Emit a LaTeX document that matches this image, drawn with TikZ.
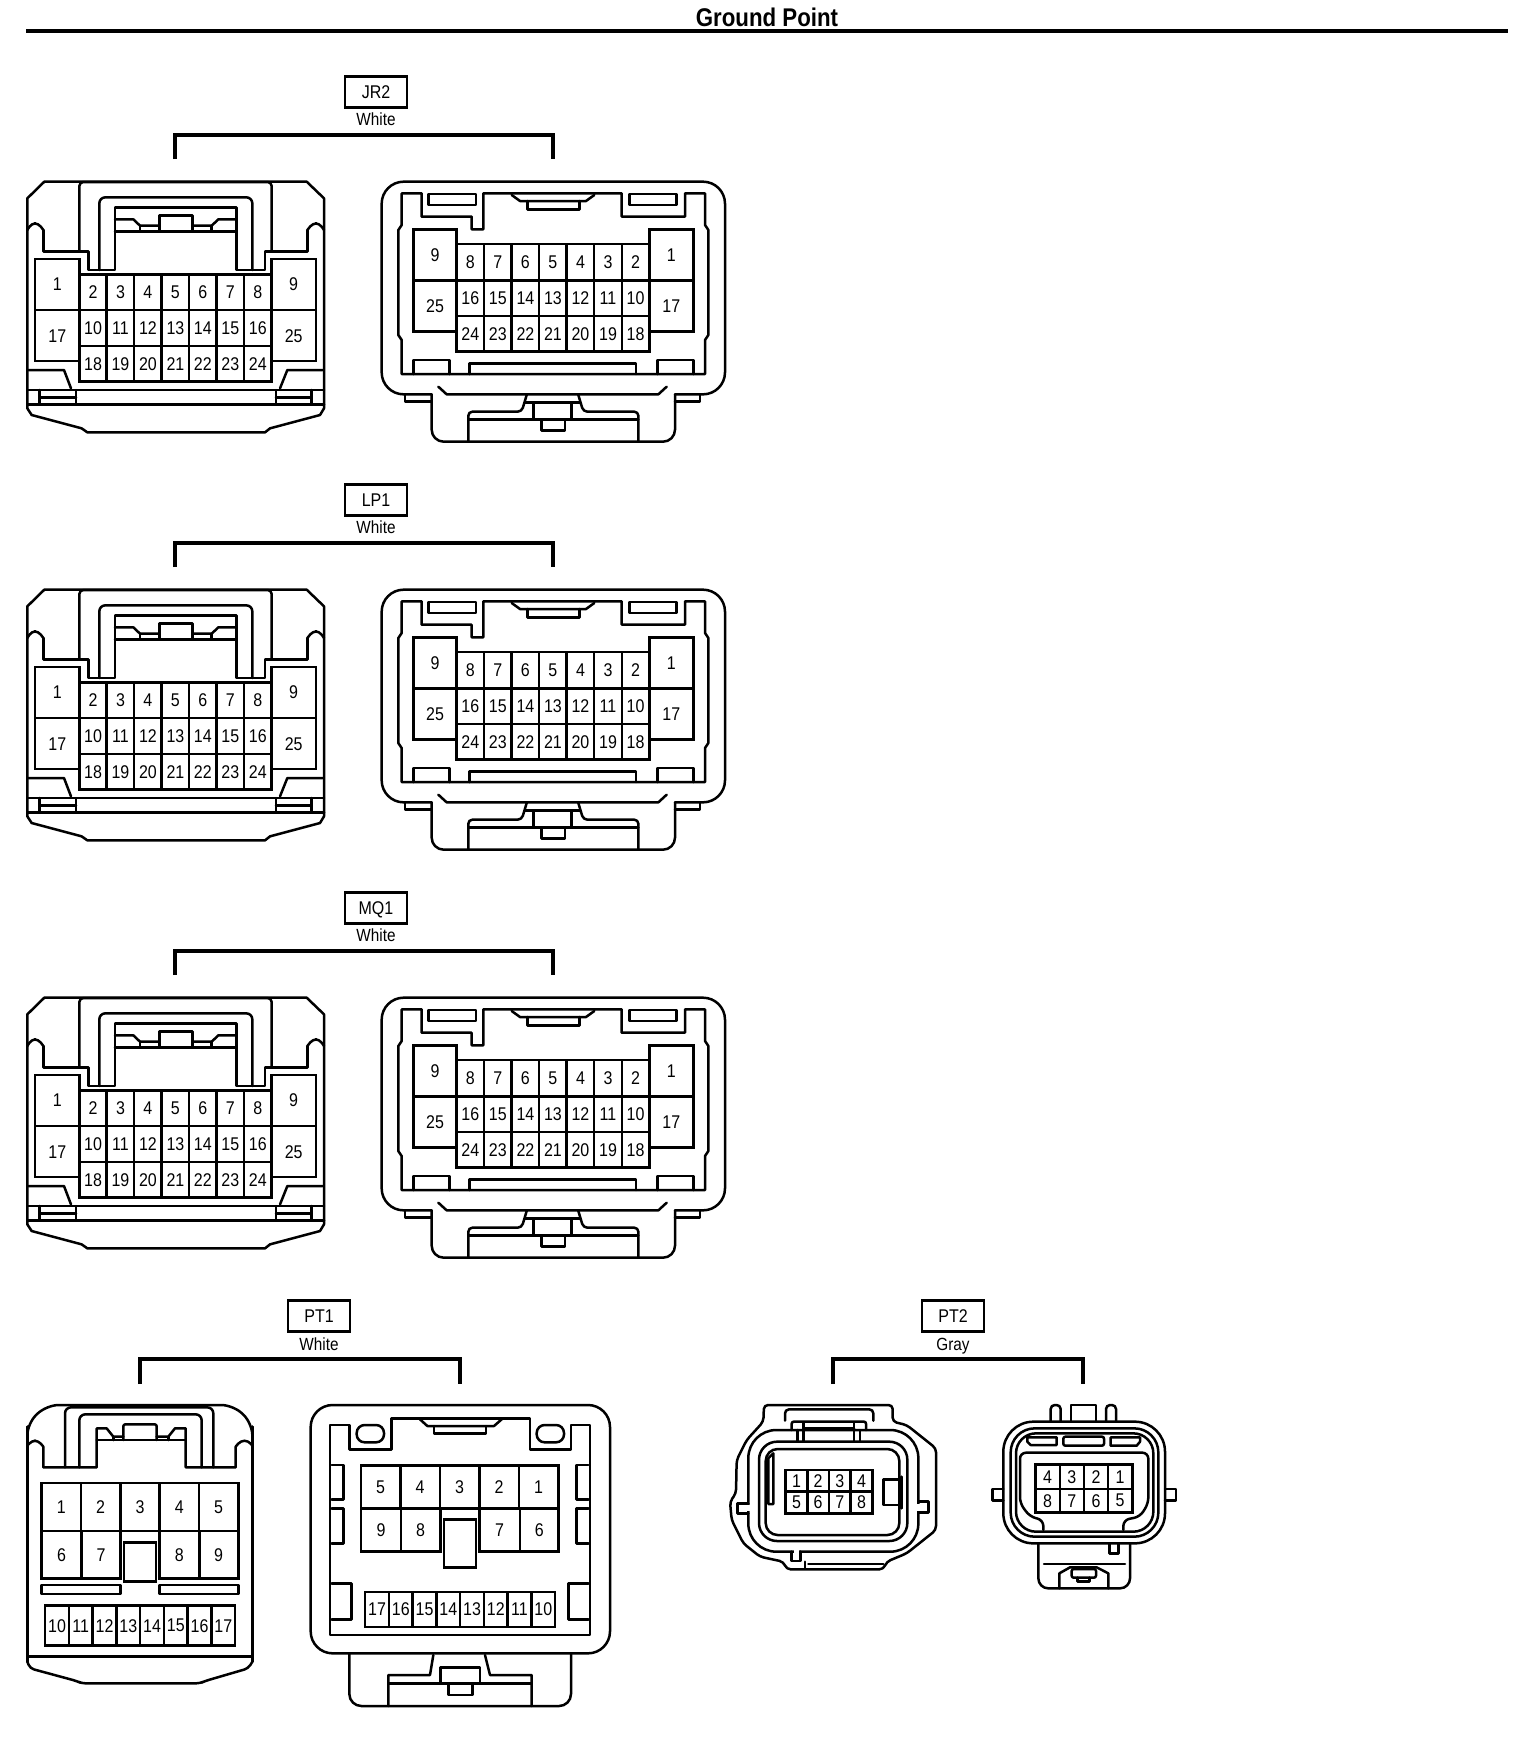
\documentclass[tikz,border=0pt]{standalone}
\usepackage{fontspec}
\newfontfamily\pinfont[FakeStretch=0.87]{Liberation Sans}
\newcommand{\pinsize}{\fontsize{9.2}{10}\selectfont}

\tikzset{
  cu/.style={x=0.16667pt,y=-0.16667pt},
  wire/.style={line width=1.25pt,line join=round,line cap=round},
  bracket/.style={line width=1.7pt},
  gap/.style={white,line width=1.5pt},
  pincell/.style 2 args={draw,line width=1.25pt,inner sep=0pt,outer sep=0pt,
    minimum width=#1*0.16667pt,minimum height=#2*0.16667pt,font=\pinfont\pinsize},
  holecell/.style 2 args={draw,line width=1.25pt,inner sep=0pt,outer sep=0pt,fill=white,
    minimum width=#1*0.16667pt,minimum height=#2*0.16667pt},
  tagbox/.style={draw,line width=1.25pt,inner sep=0pt,outer sep=0pt,text height=6.6pt,text depth=0pt,
    minimum width=31pt,minimum height=15.5pt,font=\pinfont\pinsize},
  tagtext/.style={inner sep=0pt,text height=6.4pt,text depth=0pt,font=\pinfont\fontsize{8.8}{10}\selectfont},
}

\tikzset{
  pics/arched/.style={code={
    \begin{scope}[cu]
    \draw[wire] (133,365) -- (920,365) -- (972,415) -- (972,1045) -- (960,1065) -- (810,1105)
      -- (795,1117) -- (262,1117) -- (245,1105) -- (95,1065) -- (82,1045) -- (82,415) -- cycle;
    % hood
    \draw[wire,rounded corners=2pt] (238,575) -- (238,366) -- (815,366) -- (815,575);
    \draw[wire,rounded corners=2pt] (82,510) -- (95,490) -- (115,490) -- (130,510);
    \draw[wire,rounded corners=2pt] (972,510) -- (958,490) -- (938,490) -- (922,510);
    \draw[wire] (130,510) -- (130,575) -- (265,575) -- (265,630) -- (345,630) -- (345,443) -- (710,443)
      -- (710,630) -- (795,630) -- (795,575) -- (922,575) -- (922,510);
    \draw[wire,rounded corners=3pt] (298,630) -- (298,412) -- (757,412) -- (757,630);
    % latch
    \draw[wire] (345,515) -- (710,515);
    \draw[wire] (345,478) -- (400,478) -- (420,497) -- (478,497);
    \draw[wire] (578,497) -- (635,497) -- (655,478) -- (710,478);
    \draw[wire] (420,497) -- (420,515) (635,497) -- (635,515);
    \draw[wire] (478,515) -- (478,466) -- (578,466) -- (578,515);
    % pins
    \foreach \n [count=\i from 0] in {2,...,8}
      \node[pincell={82.4}{107}] (-pin\n) at ({279+\i*82.4},697) {\n};
    \foreach \n [count=\i from 0] in {10,...,16}
      \node[pincell={82.4}{107}] (-pin\n) at ({279+\i*82.4},804) {\n};
    \foreach \n [count=\i from 0] in {18,...,24}
      \node[pincell={82.4}{107}] (-pin\n) at ({279+\i*82.4},911) {\n};
    \node[pincell={133}{153}] (-pin1) at (172,673) {1};
    \node[pincell={133}{153}] (-pin17) at (172,827) {17};
    \node[pincell={133}{153}] (-pin9) at (881,673) {9};
    \node[pincell={133}{153}] (-pin25) at (881,827) {25};
    % foot
    \draw[wire] (85,930) -- (192,930) -- (213,985);
    \draw[wire] (968,930) -- (862,930) -- (840,985);
    \draw[wire] (82,990) -- (972,990) (82,1033) -- (972,1033);
    \draw[wire] (118,990) -- (118,1033) (228,990) -- (228,1033) (118,1012) -- (228,1012);
    \draw[wire] (828,990) -- (828,1033) (935,990) -- (935,1033) (828,1012) -- (935,1012);
    \end{scope}
  }},
  pics/boxed/.style={code={
    \begin{scope}[cu]
    \draw[wire,rounded corners=11pt] (245,1003) -- (95,1003) -- (95,365) -- (1125,365) -- (1125,1003) -- (975,1003);
    \draw[wire] (165,1003) -- (165,1025) -- (245,1025) (1050,1003) -- (1050,1025) -- (975,1025);
    \draw[wire,rounded corners=6pt] (245,1003) -- (245,1145) -- (975,1145) -- (975,1003);
    % inner wall
    \draw[wire] (155,495) -- (155,400) -- (215,400) -- (215,470) -- (365,470) -- (365,508) -- (400,508) -- (400,400)
      -- (815,400) -- (815,470) -- (1005,470) -- (1005,400) -- (1065,400) -- (1065,495) -- (1075,510)
      -- (1075,825) -- (1065,840) -- (1065,942) -- (155,942) -- (155,840) -- (145,825) -- (145,510) -- cycle;
    \draw[wire] (235,402) rectangle (378,435);
    \draw[wire] (838,402) rectangle (980,435);
    \draw[wire] (485,405) -- (510,423) -- (708,423) -- (733,405);
    \draw[wire] (532,423) -- (532,448) -- (688,448) -- (688,423);
    % pins
    \foreach \n [count=\i from 0] in {8,7,...,2}
      \node[pincell={82.6}{110}] (-pin\n) at ({361+\i*82.6},607) {\n};
    \foreach \n [count=\i from 0] in {16,15,...,10}
      \node[pincell={82.6}{106}] (-pin\n) at ({361+\i*82.6},715) {\n};
    \foreach \n [count=\i from 0] in {24,23,...,18}
      \node[pincell={82.6}{107}] (-pin\n) at ({361+\i*82.6},821) {\n};
    \node[pincell={130}{154}] (-pin9) at (255,585) {9};
    \node[pincell={130}{153}] (-pin25) at (255,738) {25};
    \node[pincell={132}{154}] (-pin1) at (964,585) {1};
    \node[pincell={132}{153}] (-pin17) at (964,738) {17};
    % slots
    \draw[wire] (190,942) -- (190,900) -- (298,900) -- (298,942);
    \draw[wire] (358,942) -- (358,910) -- (858,910) -- (858,942);
    \draw[wire] (922,942) -- (922,900) -- (1030,900) -- (1030,942);
    % clip
    \draw[wire] (265,980) -- (290,1003) -- (925,1003) -- (950,980);
    \draw[wire,rounded corners=2pt] (530,1005) -- (515,1055) -- (355,1055) -- (355,1145);
    \draw[wire,rounded corners=2pt] (685,1005) -- (700,1055) -- (865,1055) -- (865,1145);
    \draw[wire] (355,1078) -- (865,1078);
    \draw[wire] (525,1028) -- (690,1028);
    \draw[wire] (550,1028) -- (550,1078) (665,1028) -- (665,1078);
    \draw[wire] (575,1078) -- (575,1112) -- (645,1112) -- (645,1078);
    \end{scope}
  }},
  pics/archedsmall/.style={code={
    \begin{scope}[cu]
    \draw[wire,rounded corners=6pt] (82,140) -- (82,130) -- (140,75) -- (700,75) -- (757,130) -- (757,140);
    \draw[wire] (82,140) -- (82,845) (757,140) -- (757,845);
    \draw[wire,rounded corners=2pt] (82,845) -- (90,865) -- (230,903) -- (245,910) -- (600,910) -- (615,903) -- (745,865) -- (757,845);
    \draw[wire] (82,830) -- (757,830);
    % hood
    \draw[wire,rounded corners=2pt] (82,197) -- (95,182) -- (115,182) -- (130,200);
    \draw[wire,rounded corners=2pt] (757,197) -- (745,182) -- (722,182) -- (707,200);
    \draw[wire] (130,200) -- (130,262) -- (290,262) -- (290,145) -- (320,145) -- (340,170) -- (370,170);
    \draw[wire] (470,170) -- (505,170) -- (525,145) -- (557,145) -- (557,262) -- (707,262) -- (707,200);
    \draw[wire] (290,180) -- (557,180);
    \draw[wire] (340,170) -- (340,180) (505,170) -- (505,180);
    \draw[wire,rounded corners=1pt] (370,180) -- (370,133) -- (470,133) -- (470,180);
    \draw[wire,rounded corners=3pt] (195,262) -- (195,82) -- (640,82) -- (640,262);
    \draw[wire,rounded corners=3pt] (238,262) -- (238,103) -- (605,103) -- (605,262);
    % pins
    \foreach \n [count=\i from 0] in {1,...,5}
      \node[pincell={118}{143}] (-pin\n) at ({184+\i*118},381) {\n};
    \node[pincell={120}{142}] (-pin6) at (185,524) {6};
    \node[pincell={118}{142}] (-pin7) at (303,524) {7};
    \node[pincell={120}{142}] (-pin8) at (538,524) {8};
    \node[pincell={118}{142}] (-pin9) at (656,524) {9};
    \node[holecell={96}{117}] (-hole) at (420,546) {};
    \draw[wire] (125,615) rectangle (362,642);
    \draw[wire] (478,615) rectangle (715,642);
    \foreach \n [count=\i from 0] in {10,...,17}
      \node[pincell={71.25}{120}] (-pin\n) at ({171+\i*71.25},737) {\n};
    \end{scope}
  }},
  pics/boxedsmall/.style={code={
    \begin{scope}[cu]
    \draw[wire,rounded corners=11pt] (62,75) rectangle (960,820);
    \draw[wire,rounded corners=6pt] (178,820) -- (178,978) -- (843,978) -- (843,820);
    % inner wall
    \draw[wire] (120,135) -- (178,135) -- (178,208) -- (305,208) -- (305,115) -- (720,115) -- (720,208) -- (843,208)
      -- (843,135) -- (900,135) -- (900,765) -- (120,765) -- cycle;
    \draw[wire,rounded corners=4pt] (200,135) rectangle (282,187);
    \draw[wire,rounded corners=4pt] (740,135) rectangle (822,187);
    \draw[wire] (390,118) -- (412,138) -- (612,138) -- (635,118);
    \draw[wire] (432,138) -- (432,160) -- (588,160) -- (588,138);
    % side notches
    \draw[wire] (125,255) -- (160,255) -- (160,358) -- (125,358) (125,385) -- (160,385) -- (160,490) -- (125,490);
    \draw[wire] (125,610) -- (185,610) -- (185,718) -- (125,718);
    \draw[wire] (895,255) -- (860,255) -- (860,358) -- (895,358) (895,385) -- (860,385) -- (860,490) -- (895,490);
    \draw[wire] (895,610) -- (835,610) -- (835,718) -- (895,718);
    % pins
    \foreach \n [count=\i from 0] in {5,4,...,1}
      \node[pincell={118.4}{128}] (-pin\n) at ({272+\i*118.4},321) {\n};
    \node[pincell={120}{130}] (-pin9) at (273,450) {9};
    \node[pincell={118}{130}] (-pin8) at (392,450) {8};
    \node[pincell={122}{130}] (-pin7) at (629,450) {7};
    \node[pincell={115}{130}] (-pin6) at (748,450) {6};
    \node[holecell={96}{144}] (-hole) at (510,491) {};
    \foreach \n [count=\i from 0] in {17,16,...,10}
      \node[pincell={71.25}{105}] (-pin\n) at ({261+\i*71.25},688) {\n};
    % clip
    \draw[wire] (430,825) -- (420,885) -- (295,885) -- (295,978);
    \draw[wire] (585,825) -- (600,885) -- (725,885) -- (725,978);
    \draw[wire] (295,910) -- (725,910);
    \draw[wire] (452,910) -- (452,862) -- (570,862) -- (570,910);
    \draw[wire] (475,910) -- (475,945) -- (547,945) -- (547,910);
    \end{scope}
  }},
  pics/roundplug/.style={code={
    \begin{scope}[cu]
    \draw[wire,rounded corners=2pt] (160,125) -- (162,75) -- (548,75) -- (548,125) -- (590,135) -- (678,205) -- (678,450)
      -- (590,520) -- (530,545) -- (520,568) -- (230,568) -- (220,545) -- (150,530) -- (100,490)
      -- (65,420) -- (60,365) -- (78,340) -- (80,240) -- (110,180) -- cycle;
    \draw[wire,rounded corners=2pt] (225,122) -- (225,88) -- (490,88) -- (490,122);
    \draw[wire,rounded corners=14pt] (115,150) rectangle (625,515);
    \draw[wire,rounded corners=9pt] (147,185) rectangle (592,483);
    \draw[wire,rounded corners=6pt] (167,207) rectangle (568,465);
    % top tab
    \draw[wire,rounded corners=1pt] (245,150) -- (245,125) -- (468,125) -- (468,150);
    \draw[wire] (262,150) -- (262,185) (280,130) -- (280,185) (432,130) -- (432,185) (450,150) -- (450,185);
    \draw[wire] (280,145) -- (432,145);
    % side tabs
    \draw[gap] (115,376) -- (115,394) (625,371) -- (625,392);
    \draw[wire] (115,370) -- (82,370) -- (82,400) -- (115,400);
    \draw[wire] (625,365) -- (655,365) -- (655,398) -- (625,398);
    % bottom tab
    \draw[gap] (251,515) -- (266,515);
    \draw[wire] (245,515) -- (245,543) -- (272,543) -- (272,515);
    \draw[wire] (285,545) -- (285,565) (295,552) -- (520,552);
    % keys
    \draw[wire] (190,220) -- (175,235) -- (175,372) -- (190,372) -- cycle;
    \draw[wire] (575,290) -- (575,385) (575,298) -- (520,298) -- (520,375) -- (575,375);
    % pins
    \foreach \n [count=\i from 0] in {1,...,4}
      \node[pincell={65}{65}] (-pin\n) at ({259.5+\i*65},302.5) {\n};
    \foreach \n [count=\i from 0] in {5,...,8}
      \node[pincell={65}{65}] (-pin\n) at ({259.5+\i*65},367.5) {\n};
    \end{scope}
  }},
  pics/tabplug/.style={code={
    \begin{scope}[cu]
    \draw[wire,rounded corners=15pt] (100,125) rectangle (585,490);
    \draw[wire,rounded corners=12pt] (122,145) rectangle (565,470);
    \draw[wire,rounded corners=10pt] (138,160) rectangle (550,455);
    % top tabs
    \draw[wire,rounded corners=2pt] (242,122) -- (242,75) -- (272,75) -- (272,122);
    \draw[wire] (303,122) -- (303,75) -- (378,75) -- (378,122);
    \draw[wire,rounded corners=2pt] (408,122) -- (408,75) -- (438,75) -- (438,122);
    % slots
    \draw[wire] (172,185) -- (172,172) -- (260,172) -- (260,195) -- (182,195) -- cycle;
    \draw[wire,rounded corners=1pt] (280,170) rectangle (402,197);
    \draw[wire] (422,172) -- (510,172) -- (510,185) -- (500,197) -- (422,197) -- cycle;
    % inner wall
    \draw[wire,rounded corners=3pt] (220,450) -- (220,420) -- (180,410) -- (150,370) -- (150,218) -- (535,218) -- (535,370) -- (510,410) -- (460,420) -- (460,450);
    % side tabs
    \draw[wire] (100,327) -- (67,327) -- (67,362) -- (100,362);
    \draw[wire] (585,327) -- (618,327) -- (618,362) -- (585,362);
    % pins
    \foreach \n [count=\i from 0] in {4,3,2,1}
      \node[pincell={72.5}{74}] (-pin\n) at ({233+\i*72.5},290) {\n};
    \foreach \n [count=\i from 0] in {8,7,6,5}
      \node[pincell={72.5}{70}] (-pin\n) at ({233+\i*72.5},362) {\n};
    % clip
    \draw[wire,rounded corners=5pt] (205,490) -- (205,625) -- (480,625) -- (480,490);
    \draw[wire] (222,552) -- (465,552);
    \draw[wire] (418,490) -- (418,520) -- (445,520) -- (445,490);
    \draw[wire] (268,625) -- (268,580) -- (300,562) -- (380,562) -- (415,580) -- (415,625);
    \draw[wire,rounded corners=1pt] (305,567) rectangle (378,593);
    \draw[wire] (322,593) -- (322,605) -- (358,605) -- (358,593);
    \end{scope}
  }},
}

\begin{document}
\begin{tikzpicture}[x=0.5pt,y=-0.5pt]
\useasboundingbox (0,0) rectangle (1520,1756);

% heading
\node[inner sep=0pt,font=\pinfont\bfseries\fontsize{12.8}{14}\selectfont] (title) at (767,17) {Ground Point};
\coordinate (ruleL) at (26,31);
\coordinate (ruleR) at (1508,31);
\draw[line width=2pt] (ruleL) -- (ruleR);

% three rows of the 25 pin pair
\foreach \nm/\dy in {JR2/0,LP1/408,MQ1/816}{
  \node[tagbox] (\nm) at (376,{92+\dy}) {\nm};
  \node[tagtext] (\nm-col) at (376,{119+\dy}) {White};
  \coordinate (\nm-a) at (175,{159+\dy});
  \coordinate (\nm-b) at (553,{159+\dy});
  \coordinate (\nm-t) at (376,{135+\dy});
  \draw[bracket] (\nm-a) -- (\nm-a |- \nm-t) -- (\nm-b |- \nm-t) -- (\nm-b);
  \pic (\nm-L) at (0,{60+\dy}) {arched};
  \pic (\nm-R) at (350,{60+\dy}) {boxed};
}

% PT1
\node[tagbox] (PT1) at (319,1316) {PT1};
\node[tagtext] (PT1-col) at (319,1344) {White};
\coordinate (PT1-a) at (140,1384);
\coordinate (PT1-b) at (460,1384);
\coordinate (PT1-t) at (319,1359);
\draw[bracket] (PT1-a) -- (PT1-a |- PT1-t) -- (PT1-b |- PT1-t) -- (PT1-b);
\pic (PT1-L) at (0,1380) {archedsmall};
\pic (PT1-R) at (290,1380) {boxedsmall};

% PT2
\node[tagbox] (PT2) at (953,1316) {PT2};
\node[tagtext] (PT2-col) at (953,1344) {Gray};
\coordinate (PT2-a) at (833,1384);
\coordinate (PT2-b) at (1083,1384);
\coordinate (PT2-t) at (953,1359);
\draw[bracket] (PT2-a) -- (PT2-a |- PT2-t) -- (PT2-b |- PT2-t) -- (PT2-b);
\pic (PT2-L) at (710,1380) {roundplug};
\pic (PT2-R) at (970,1380) {tabplug};

\end{tikzpicture}
\end{document}
